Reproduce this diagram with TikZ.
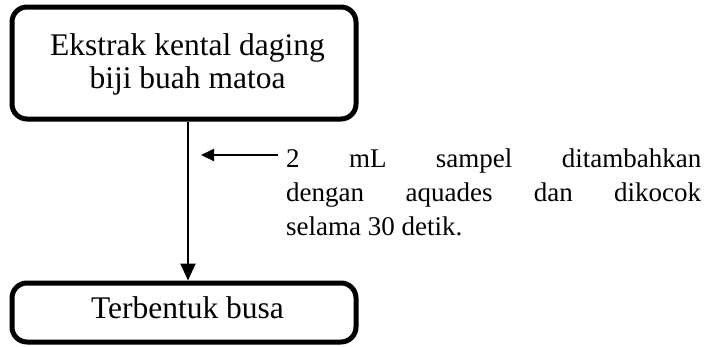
\documentclass[tikz,border=0pt]{standalone}
\usepackage{fontspec}
\setmainfont{Liberation Serif}
\usetikzlibrary{arrows.meta}
\begin{document}
\begin{tikzpicture}[x=1pt,y=-1pt,
  stepbox/.style={draw, line width=5pt, rounded corners=15pt, fill=white},
  flow/.style={line width=2pt, -{Triangle[length=17pt,width=15pt]}},
  side/.style={line width=2pt, -{Triangle[length=13pt,width=12pt]}},
  boxtxt/.style={inner sep=0pt, anchor=base, font=\fontsize{31.5}{34}\selectfont},
  notetxt/.style={inner sep=0pt, anchor=base west, font=\fontsize{27}{34}\selectfont}]
  \useasboundingbox (0,0) rectangle (711,346);
  % process boxes
  \draw[stepbox] (12,7) rectangle (356,119);
  \node[boxtxt] (top1) at (187.5,55) {Ekstrak kental daging};
  \node[boxtxt] (top2) at (187.5,88) {biji buah matoa};
  \draw[stepbox] (12,283) rectangle (356,342);
  \node[boxtxt] (bot) at (187.5,318) {Terbentuk busa};
  \coordinate (topB) at (188,121.5);
  \coordinate (botT) at (188,280.5);
  \draw[flow] (topB) -- (botT);
  % side note with its pointer
  \coordinate (noteL) at (278,155);
  \coordinate (noteR) at (201,155);
  \draw[side] (noteL) -- (noteR);
  \node[notetxt] (note1) at (286,167) {\makebox[415pt][s]{2 mL sampel ditambahkan}};
  \node[notetxt] (note2) at (286,201) {\makebox[415pt][s]{dengan aquades dan dikocok}};
  \node[notetxt] (note3) at (286,235) {selama 30 detik.};
\end{tikzpicture}
\end{document}
